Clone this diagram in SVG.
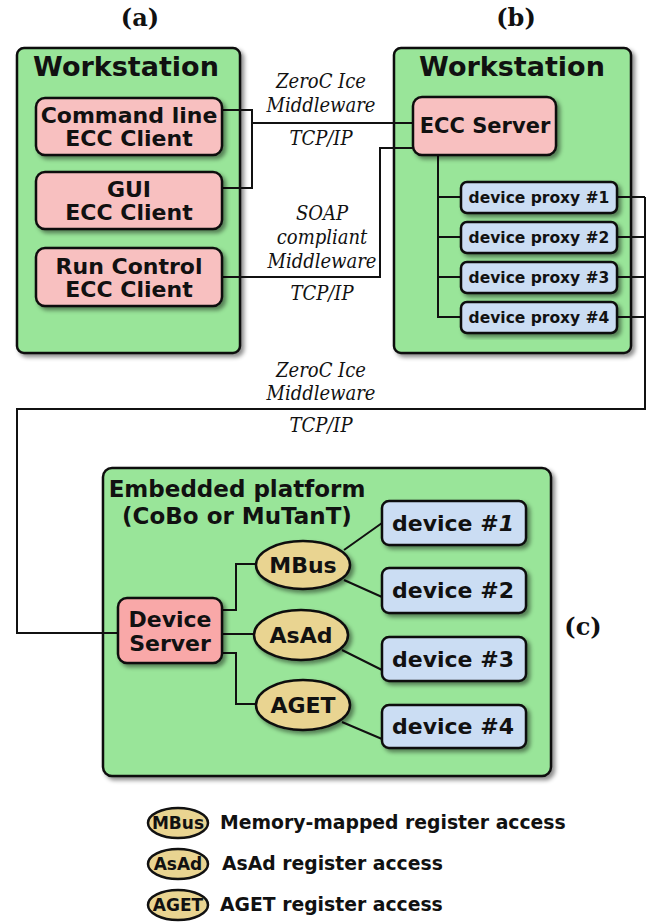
<svg xmlns="http://www.w3.org/2000/svg" width="651" height="922" viewBox="0 0 651 922">
<defs>
<filter id="sh" x="-10%" y="-10%" width="130%" height="130%">
<feDropShadow dx="3" dy="3" stdDeviation="2" flood-color="#000" flood-opacity="0.45"/>
</filter>
<style>
.cont{fill:#99e599;stroke:#111;stroke-width:2.5;filter:url(#sh)}
.pink{fill:#f8c0c0;stroke:#111;stroke-width:2.5;filter:url(#sh)}
.pink2{fill:#f9a8a8;stroke:#111;stroke-width:2.5;filter:url(#sh)}
.blue{fill:#cbddf3;stroke:#111;stroke-width:2.5;filter:url(#sh)}
.tan{fill:#e9d491;stroke:#111;stroke-width:2.5;filter:url(#sh)}
.tanl{fill:#e9d491;stroke:#111;stroke-width:2.5}
.b{font-family:"DejaVu Sans",sans-serif;font-weight:bold;fill:#111;text-anchor:middle}
.it{font-family:"DejaVu Serif Condensed","DejaVu Serif",serif;font-style:italic;font-size:20px;fill:#111;text-anchor:middle}
.lab{font-family:"DejaVu Serif",serif;font-weight:bold;font-size:24px;fill:#111;text-anchor:middle}
.lg{font-family:"DejaVu Sans",sans-serif;font-weight:bold;font-size:18.8px;fill:#111}
.ln{fill:none;stroke:#111;stroke-width:2}
</style>
</defs>
<rect width="651" height="922" fill="#fff"/>

<text class="lab" x="140" y="26">(a)</text>
<text class="lab" x="516" y="26">(b)</text>
<text class="lab" x="583" y="635">(c)</text>

<g id="workstation-a">
<rect class="cont" x="17" y="48" width="223" height="305" rx="7"/>
<text class="b" x="126" y="76" font-size="27">Workstation</text>
</g>
<g id="workstation-b">
<rect class="cont" x="394" y="48" width="237" height="305" rx="7"/>
<text class="b" x="512" y="76" font-size="27">Workstation</text>
</g>
<g id="embedded">
<rect class="cont" x="103" y="468" width="448" height="308" rx="9"/>
<text class="b" x="237" y="497" font-size="23">Embedded platform</text>
<text class="b" x="237" y="524" font-size="23">(CoBo or MuTanT)</text>
</g>

<g id="connectors">
<path class="ln" d="M222 110 H252 V188 H222"/>
<path class="ln" d="M252 123 H413"/>
<path class="ln" d="M413 148 H380 V277 H222"/>
<path class="ln" d="M438 155 V317 H461 M438 197 H461 M438 237 H461 M438 277 H461"/>
<path class="ln" d="M617 197 H645 M617 237 H645 M617 277 H645 M617 317 H645 M645 197 V409 H17 V633 H118"/>
<path class="ln" d="M222 610 H236 V564 H256"/>
<path class="ln" d="M222 634 H254"/>
<path class="ln" d="M222 653 H236 V704 H256"/>
<path class="ln" d="M344 550 L382 523 M344 580 L382 597 M342 650 L382 670 M342 722 L382 739"/>
</g>
<g id="edge-labels">
<text class="it" x="321" y="88">ZeroC Ice</text>
<text class="it" x="321" y="112">Middleware</text>
<text class="it" x="321" y="145">TCP/IP</text>
<text class="it" x="322" y="220">SOAP</text>
<text class="it" x="322" y="244">compliant</text>
<text class="it" x="322" y="268">Middleware</text>
<text class="it" x="322" y="300">TCP/IP</text>
<text class="it" x="321" y="377">ZeroC Ice</text>
<text class="it" x="321" y="400">Middleware</text>
<text class="it" x="321" y="432">TCP/IP</text>
</g>

<g id="cmd-client">
<rect class="pink" x="36" y="98" width="186" height="57" rx="9"/>
<text class="b" x="129" y="123" font-size="22">Command line</text>
<text class="b" x="129" y="146" font-size="22">ECC Client</text>
</g>
<g id="gui-client">
<rect class="pink" x="36" y="172" width="186" height="57" rx="9"/>
<text class="b" x="129" y="197" font-size="22">GUI</text>
<text class="b" x="129" y="220" font-size="22">ECC Client</text>
</g>
<g id="rc-client">
<rect class="pink" x="36" y="248" width="186" height="58" rx="9"/>
<text class="b" x="129" y="274" font-size="22">Run Control</text>
<text class="b" x="129" y="297" font-size="22">ECC Client</text>
</g>

<g id="ecc-server">
<rect class="pink" x="413" y="97" width="143" height="58" rx="9"/>
<text class="b" x="485" y="133" font-size="21">ECC Server</text>
</g>
<g id="proxy1">
<rect class="blue" x="461" y="182" width="156" height="31" rx="6"/>
<text class="b" x="539" y="203" font-size="15.5">device proxy #1</text>
</g>
<g id="proxy2">
<rect class="blue" x="461" y="222" width="156" height="31" rx="6"/>
<text class="b" x="539" y="243" font-size="15.5">device proxy #2</text>
</g>
<g id="proxy3">
<rect class="blue" x="461" y="262" width="156" height="31" rx="6"/>
<text class="b" x="539" y="283" font-size="15.5">device proxy #3</text>
</g>
<g id="proxy4">
<rect class="blue" x="461" y="302" width="156" height="31" rx="6"/>
<text class="b" x="539" y="323" font-size="15.5">device proxy #4</text>
</g>

<g id="device-server">
<rect class="pink2" x="118" y="598" width="104" height="65" rx="9"/>
<text class="b" x="170" y="627" font-size="22">Device</text>
<text class="b" x="170" y="651" font-size="22">Server</text>
</g>
<g id="mbus">
<ellipse class="tan" cx="303" cy="565" rx="47" ry="24"/>
<text class="b" x="303" y="573" font-size="22">MBus</text>
</g>
<g id="asad">
<ellipse class="tan" cx="301" cy="635" rx="47" ry="25"/>
<text class="b" x="301" y="643" font-size="22">AsAd</text>
</g>
<g id="aget">
<ellipse class="tan" cx="303" cy="705" rx="47" ry="25"/>
<text class="b" x="303" y="713" font-size="22">AGET</text>
</g>
<g id="device1">
<rect class="blue" x="382" y="501" width="144" height="44" rx="7"/>
<text class="b" x="453" y="531" font-size="22">device #<tspan font-style="italic">1</tspan></text>
</g>
<g id="device2">
<rect class="blue" x="382" y="568" width="144" height="45" rx="7"/>
<text class="b" x="453" y="598" font-size="22">device #2</text>
</g>
<g id="device3">
<rect class="blue" x="382" y="637" width="144" height="44" rx="7"/>
<text class="b" x="453" y="667" font-size="22">device #3</text>
</g>
<g id="device4">
<rect class="blue" x="382" y="705" width="144" height="43" rx="7"/>
<text class="b" x="453" y="734" font-size="22">device #4</text>
</g>

<g id="legend">
<ellipse class="tanl" cx="178" cy="823" rx="30" ry="15"/>
<text class="b" x="178" y="829" font-size="17">MBus</text>
<text class="lg" x="220" y="829">Memory-mapped register access</text>
<ellipse class="tanl" cx="178" cy="864" rx="30" ry="15"/>
<text class="b" x="178" y="870" font-size="17">AsAd</text>
<text class="lg" x="222" y="870">AsAd register access</text>
<ellipse class="tanl" cx="178" cy="905" rx="30" ry="15"/>
<text class="b" x="178" y="911" font-size="17">AGET</text>
<text class="lg" x="220" y="911">AGET register access</text>
</g>
</svg>
